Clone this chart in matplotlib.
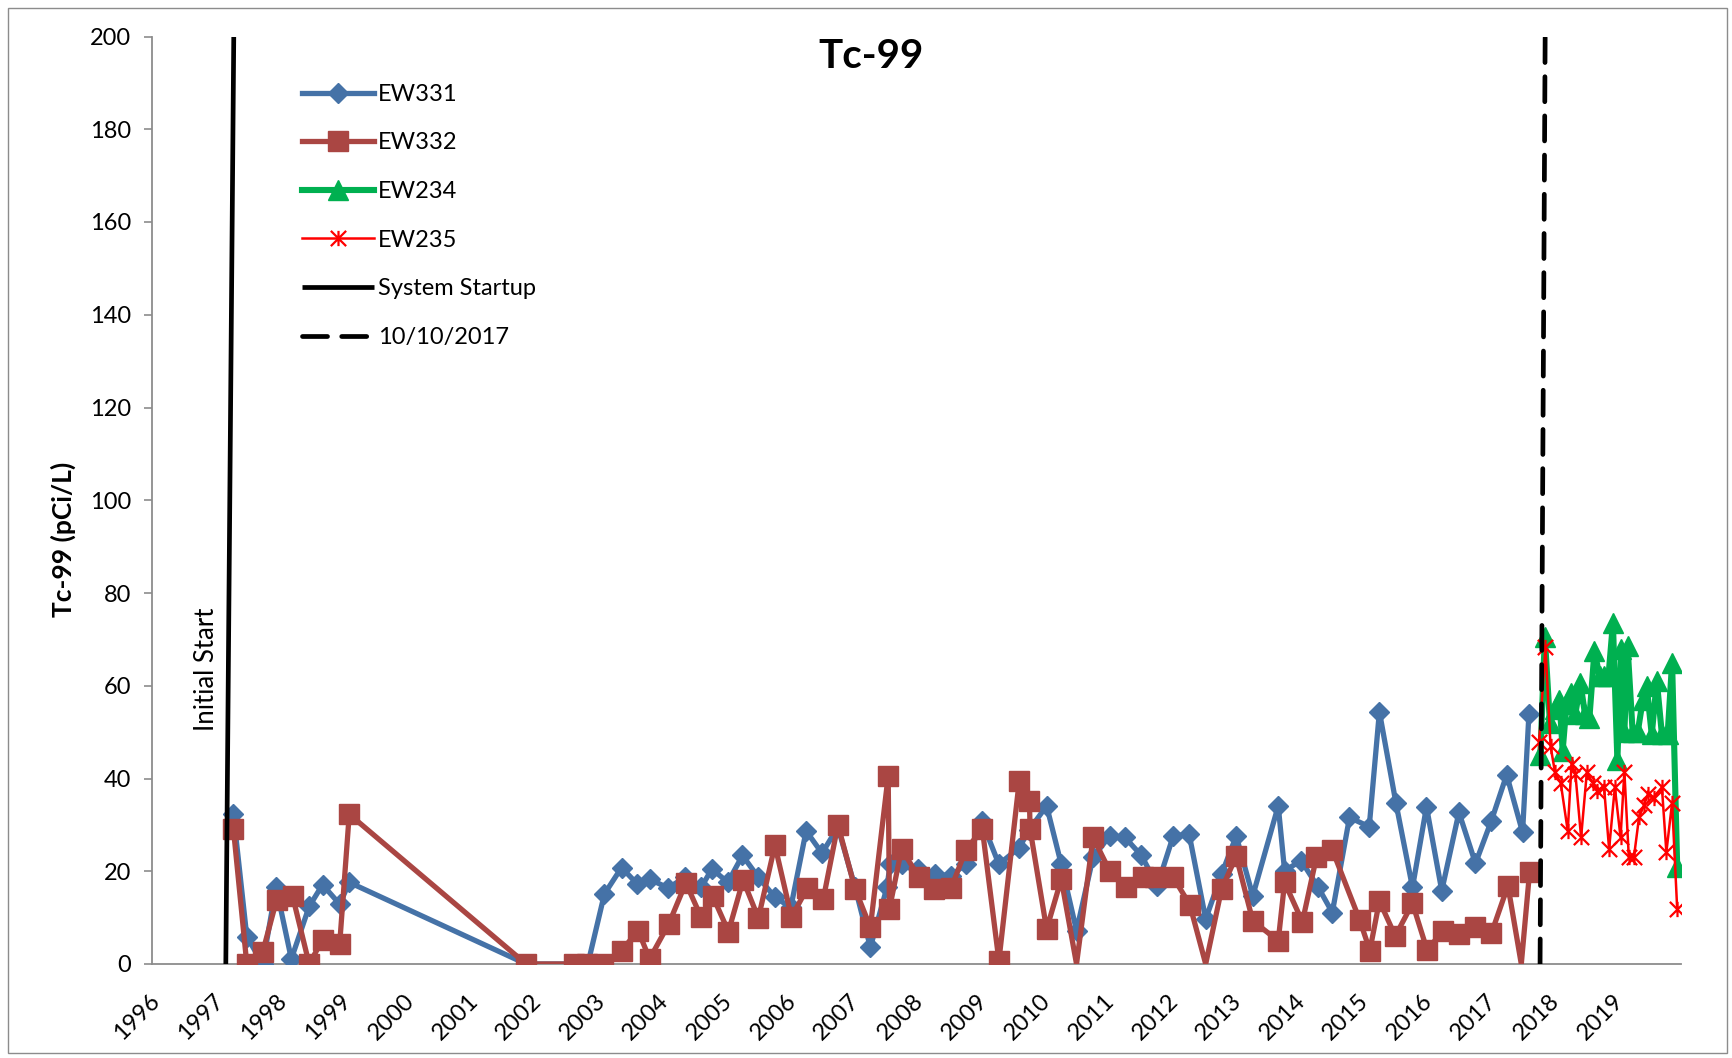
import matplotlib
matplotlib.use("Agg")
import matplotlib.pyplot as plt
from matplotlib.path import Path
import matplotlib.patches as mpatches

plt.rcParams['font.family'] = ['Lato', 'DejaVu Sans']

# ---------------- data (decimal years, pCi/L) ----------------
ew331_dates = [1997.21, 1997.42, 1997.67, 1997.88, 1998.12, 1998.40, 1998.61, 1998.88, 1999.03,
               2001.81, 2002.57, 2002.78, 2003.04, 2003.31, 2003.56, 2003.75, 2004.04, 2004.31,
               2004.56, 2004.73, 2004.98, 2005.21, 2005.46, 2005.72, 2005.97, 2006.21, 2006.46,
               2006.71, 2006.98, 2007.22, 2007.48, 2007.53, 2007.72, 2007.97, 2008.23, 2008.48,
               2008.72, 2008.97, 2009.24, 2009.56, 2009.72, 2009.99, 2010.22, 2010.46, 2010.72,
               2010.98, 2011.22, 2011.48, 2011.73, 2011.98, 2012.23, 2012.49, 2012.74, 2012.97,
               2013.23, 2013.63, 2013.73, 2013.99, 2014.26, 2014.48, 2014.75, 2015.06, 2015.22,
               2015.48, 2015.74, 2015.96, 2016.20, 2016.47, 2016.73, 2016.98, 2017.22, 2017.47,
               2017.57]
ew331_values = [32.3, 5.9, 0, 16.6, 1.1, 12.4, 17.1, 12.9, 17.6,
                0, 0, 0, 15.1, 20.8, 17.2, 18.3, 16.4, 18.7,
                16.5, 20.5, 17.6, 23.4, 18.7, 14.4, 12.2, 28.7, 23.9,
                29.5, 16.5, 3.6, 16.5, 21.5, 21.5, 20.5, 19.4, 19.0,
                21.5, 30.9, 21.5, 25.1, 29.0, 34.1, 21.5, 7.2, 23.0,
                27.6, 27.3, 23.4, 16.9, 27.6, 28.0, 9.7, 19.4, 27.6,
                14.7, 34.1, 20.1, 22.3, 16.5, 11.1, 31.6, 29.6, 54.4,
                34.7, 16.5, 33.9, 15.8, 32.7, 21.7, 30.9, 40.8, 28.4,
                53.9]

ew332_dates = [1997.21, 1997.42, 1997.67, 1997.89, 1998.14, 1998.40, 1998.61, 1998.88, 1999.03,
               2001.81, 2002.57, 2002.76, 2003.02, 2003.31, 2003.57, 2003.75, 2004.05, 2004.32,
               2004.56, 2004.74, 2004.99, 2005.22, 2005.46, 2005.72, 2005.98, 2006.23, 2006.48,
               2006.71, 2006.98, 2007.22, 2007.50, 2007.52, 2007.71, 2007.98, 2008.22, 2008.49,
               2008.72, 2008.98, 2009.24, 2009.56, 2009.72, 2009.73, 2009.99, 2010.22, 2010.46,
               2010.72, 2010.98, 2011.23, 2011.50, 2011.70, 2011.98, 2012.24, 2012.49, 2012.74,
               2012.97, 2013.23, 2013.63, 2013.73, 2014.01, 2014.23, 2014.48, 2014.91, 2015.07,
               2015.22, 2015.47, 2015.74, 2015.97, 2016.22, 2016.47, 2016.73, 2016.98, 2017.24,
               2017.45, 2017.58]
ew332_values = [29.1, 0, 2.6, 13.9, 14.6, 0, 5.2, 4.4, 32.3,
                0, 0, 0, 0, 2.9, 7.2, 1.1, 8.6, 17.5,
                10.1, 14.7, 7.0, 18.1, 9.9, 25.6, 10.1, 16.4, 14.0,
                30.0, 16.2, 7.9, 40.6, 11.9, 24.8, 18.8, 16.2, 16.4,
                24.6, 29.1, 0.7, 39.5, 35.2, 29.1, 7.5, 18.3, 0,
                27.3, 20.1, 16.5, 18.8, 18.8, 18.7, 12.8, 0, 16.2,
                23.2, 9.3, 5.0, 17.6, 9.1, 23.0, 24.6, 9.5, 2.9,
                13.6, 6.0, 13.1, 3.0, 7.2, 6.5, 8.0, 6.6, 16.9,
                0, 19.8]
# samples plotted without a marker (line only)
ew332_unmarked_dates = [2010.46, 2012.49, 2017.45]

ew234_dates = [2017.75, 2017.82, 2017.90, 2017.98, 2018.05, 2018.10, 2018.16, 2018.23, 2018.30,
               2018.38, 2018.45, 2018.52, 2018.60, 2018.68, 2018.75, 2018.82, 2018.89, 2018.96,
               2019.02, 2019.07, 2019.12, 2019.20, 2019.28, 2019.36, 2019.42, 2019.50, 2019.58,
               2019.66, 2019.75, 2019.82, 2019.90]
ew234_values = [45.0, 70.5, 52.0, 55.0, 57.0, 46.0, 56.0, 58.5, 54.0,
                60.5, 54.0, 53.0, 67.5, 62.0, 62.0, 62.0, 73.5, 44.0,
                68.0, 50.0, 68.5, 50.0, 50.0, 57.0, 60.0, 49.5, 61.0,
                49.5, 49.5, 65.0, 21.0]

ew235_dates = [2017.73, 2017.83, 2017.91, 2017.98, 2018.07, 2018.18, 2018.24, 2018.30, 2018.39,
               2018.48, 2018.57, 2018.64, 2018.75, 2018.83, 2018.92, 2019.01, 2019.07, 2019.14,
               2019.22, 2019.30, 2019.38, 2019.44, 2019.53, 2019.66, 2019.73, 2019.82, 2019.90]
ew235_values = [47.8, 68.3, 47.0, 41.3, 39.0, 28.7, 43.1, 41.0, 27.3,
                41.3, 39.1, 37.4, 38.2, 24.8, 38.1, 27.3, 41.5, 23.0,
                23.0, 31.6, 34.3, 36.6, 35.9, 38.1, 24.1, 34.8, 11.9]

startup_dates = [1997.09, 1997.215]
startup_values = [0, 200]
ref_dates = [2017.745, 2017.825]
ref_values = [0, 200]

year_ticks = list(range(1996, 2020))
year_labels = [str(y) for y in year_ticks]
y_ticks = list(range(0, 201, 20))

series_names = ["EW331", "EW332", "EW234", "EW235", "System Startup", "10/10/2017"]
title = "Tc-99"
y_label = "Tc-99 (pCi/L)"
annotation = "Initial Start"

# ---------------- figure ----------------
W, H = 1732, 1058
fig = plt.figure(figsize=(W / 100, H / 100), dpi=100)
ax = fig.add_axes([152 / W, 1 - 964 / H, (1681 - 152) / W, (964 - 36.5) / H])

c331 = "#4572A7"
c332 = "#AA4643"
c234 = "#00B050"
c235 = "#FF0000"

star = Path([(-1, -1), (1, 1), (-1, 1), (1, -1), (0, -1.0), (0, 1.0)],
            [Path.MOVETO, Path.LINETO, Path.MOVETO, Path.LINETO, Path.MOVETO, Path.LINETO])

ax.plot(ew331_dates, ew331_values, color=c331, lw=3.8, marker="D", ms=10.5,
        mfc=c331, mec=c331, label=series_names[0], zorder=3)

marked = [i for i, d in enumerate(ew332_dates) if d not in ew332_unmarked_dates]
ax.plot(ew332_dates, ew332_values, color=c332, lw=3.8, marker="s", ms=14.5,
        mfc=c332, mec=c332, markevery=marked, label=series_names[1], zorder=4)

ax.plot(ew234_dates, ew234_values, color=c234, lw=4.4, marker="^", ms=14,
        mfc=c234, mec=c234, label=series_names[2], zorder=5)

ax.plot(ew235_dates, ew235_values, color=c235, lw=1.8, marker=star, ms=11,
        mfc="none", mec=c235, mew=1.6, label=series_names[3], zorder=6)

ax.plot(startup_dates, startup_values, color="black", lw=3.4,
        label=series_names[4], zorder=7, solid_capstyle="butt")
ax.plot(ref_dates, ref_values, color="black", lw=3.4, dashes=(5.3, 3.0),
        dash_capstyle="round", label=series_names[5], zorder=7)

ax.set_xlim(1995.93, 2019.96)
ax.set_ylim(0, 200)

ax.set_yticks(y_ticks)
ax.set_xticks(year_ticks)
ax.set_xticklabels(year_labels, rotation=45, ha="right", va="center",
                   rotation_mode="anchor")

for s in ["top", "right"]:
    ax.spines[s].set_visible(False)
for s in ["left", "bottom"]:
    ax.spines[s].set_color("#8C8C8C")
    ax.spines[s].set_linewidth(1.3)

ax.tick_params(axis="y", direction="out", length=6, width=1.2, color="#8C8C8C",
               labelsize=17, pad=9)
ax.tick_params(axis="x", length=0, labelsize=17, pad=24)

ax.text(0.47, 0.978, title, transform=ax.transAxes, ha="center", va="center",
        fontsize=29, fontweight="bold")
fig.text(63 / W, 1 - 539 / H, y_label, rotation=90, ha="center", va="center",
         fontsize=19, fontweight="bold")
ax.text(1996.78, 50.3, annotation, rotation=90, ha="center", va="bottom", fontsize=18.5)

leg = ax.legend(loc="upper left", bbox_to_anchor=(0.0978, 0.949), frameon=False,
                fontsize=17, handlelength=3.05, handletextpad=0.2, labelspacing=1.17,
                numpoints=1, borderpad=0, borderaxespad=0)

fig.patches.append(mpatches.Rectangle((8 / W, 1 - 1053 / H), (1727 - 8) / W, (1053 - 8) / H,
                                      transform=fig.transFigure, fill=False,
                                      edgecolor="#8C8C8C", lw=1.0))

fig.savefig("out.png", dpi=100)
